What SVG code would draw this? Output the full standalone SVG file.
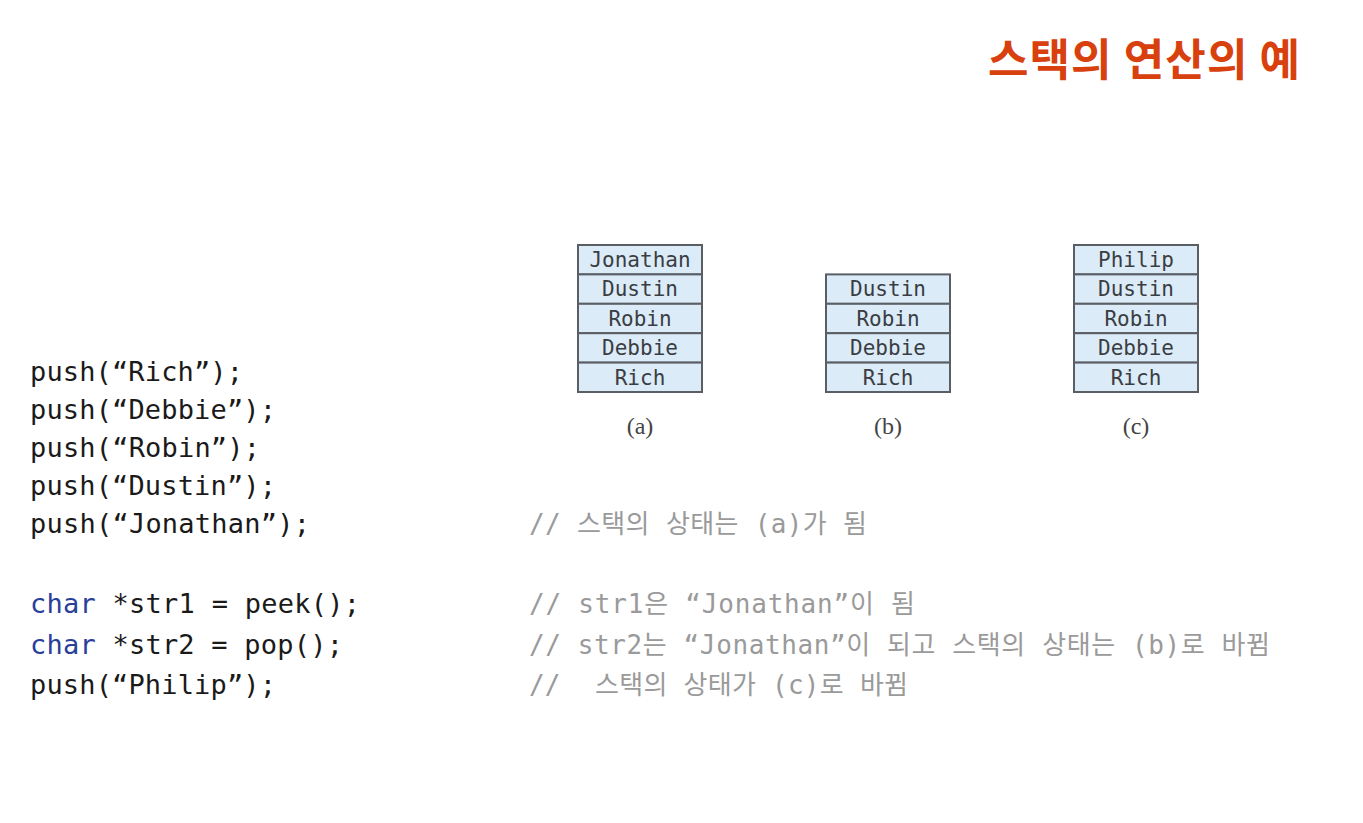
<svg xmlns="http://www.w3.org/2000/svg" width="1363" height="823" viewBox="0 0 1363 823">
<style>
.cell{fill:#dcebf8;stroke:#5a5f66;stroke-width:2}
.ct{font-family:"DejaVu Sans Mono","Liberation Mono",monospace;font-size:21px;fill:#3a3d42;text-anchor:middle}
.lab{font-family:"Liberation Serif",serif;font-size:24px;fill:#444;text-anchor:middle}
.code{font-family:"DejaVu Sans Mono","Liberation Mono","Noto Sans CJK KR",monospace;font-size:27px;fill:#1a1a1a}
.kw{fill:#2a3f9a}
.cm{font-family:"DejaVu Sans Mono","Liberation Mono","Noto Sans CJK KR",monospace;font-size:26px;fill:#9a9a9a}
.title{font-family:"Noto Sans CJK KR","Noto Sans",sans-serif;font-size:44px;font-weight:bold;fill:#d8400e}
</style>
<rect width="1363" height="823" fill="#ffffff"/>
<text class="title" x="1300" y="76" text-anchor="end" textLength="312" lengthAdjust="spacing">스택의 연산의 예</text>

<g id="stack-a">
<rect class="cell" x="578" y="245" width="124" height="29.4"/>
<rect class="cell" x="578" y="274.4" width="124" height="29.4"/>
<rect class="cell" x="578" y="303.8" width="124" height="29.4"/>
<rect class="cell" x="578" y="333.2" width="124" height="29.4"/>
<rect class="cell" x="578" y="362.6" width="124" height="29.4"/>
<text class="ct" x="640" y="267">Jonathan</text>
<text class="ct" x="640" y="296">Dustin</text>
<text class="ct" x="640" y="326">Robin</text>
<text class="ct" x="640" y="355">Debbie</text>
<text class="ct" x="640" y="385">Rich</text>
<text class="lab" x="640" y="434">(a)</text>
</g>

<g id="stack-b">
<rect class="cell" x="826" y="274.4" width="124" height="29.4"/>
<rect class="cell" x="826" y="303.8" width="124" height="29.4"/>
<rect class="cell" x="826" y="333.2" width="124" height="29.4"/>
<rect class="cell" x="826" y="362.6" width="124" height="29.4"/>
<text class="ct" x="888" y="296">Dustin</text>
<text class="ct" x="888" y="326">Robin</text>
<text class="ct" x="888" y="355">Debbie</text>
<text class="ct" x="888" y="385">Rich</text>
<text class="lab" x="888" y="434">(b)</text>
</g>

<g id="stack-c">
<rect class="cell" x="1074" y="245" width="124" height="29.4"/>
<rect class="cell" x="1074" y="274.4" width="124" height="29.4"/>
<rect class="cell" x="1074" y="303.8" width="124" height="29.4"/>
<rect class="cell" x="1074" y="333.2" width="124" height="29.4"/>
<rect class="cell" x="1074" y="362.6" width="124" height="29.4"/>
<text class="ct" x="1136" y="267">Philip</text>
<text class="ct" x="1136" y="296">Dustin</text>
<text class="ct" x="1136" y="326">Robin</text>
<text class="ct" x="1136" y="355">Debbie</text>
<text class="ct" x="1136" y="385">Rich</text>
<text class="lab" x="1136" y="434">(c)</text>
</g>

<g id="code">
<text class="code" x="30" y="381" textLength="213" lengthAdjust="spacing">push(“Rich”);</text>
<text class="code" x="30" y="419" textLength="246" lengthAdjust="spacing">push(“Debbie”);</text>
<text class="code" x="30" y="457" textLength="230" lengthAdjust="spacing">push(“Robin”);</text>
<text class="code" x="30" y="495" textLength="246" lengthAdjust="spacing">push(“Dustin”);</text>
<text class="code" x="30" y="533" textLength="280" lengthAdjust="spacing">push(“Jonathan”);</text>
<text class="code" x="30" y="613" textLength="330" lengthAdjust="spacing"><tspan class="kw">char</tspan> *str1 = peek();</text>
<text class="code" x="30" y="654" textLength="313" lengthAdjust="spacing"><tspan class="kw">char</tspan> *str2 = pop();</text>
<text class="code" x="30" y="694" textLength="246" lengthAdjust="spacing">push(“Philip”);</text>
</g>

<g id="comments">
<text class="cm" x="529" y="533" textLength="338" lengthAdjust="spacing">// 스택의 상태는 (a)가 됨</text>
<text class="cm" x="529" y="613" textLength="386" lengthAdjust="spacing">// str1은 “Jonathan”이 됨</text>
<text class="cm" x="529" y="654" textLength="741" lengthAdjust="spacing">// str2는 “Jonathan”이 되고 스택의 상태는 (b)로 바뀜</text>
<text class="cm" x="529" y="694">//</text>
<text class="cm" x="595" y="694" textLength="313" lengthAdjust="spacing">스택의 상태가 (c)로 바뀜</text>
</g>
</svg>
